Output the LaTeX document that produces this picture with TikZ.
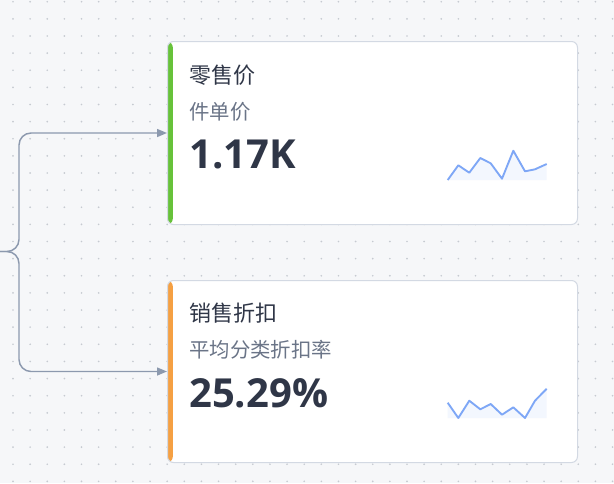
\documentclass[tikz,border=0pt]{standalone}
\usepackage{fontspec}
\setmainfont{Noto Sans CJK SC}
\newfontfamily\numfont{Open Sans}
\usetikzlibrary{calc, arrows.meta}

\definecolor{bgcol}{HTML}{F6F7F9}
\definecolor{dotcol}{HTML}{C6CAD1}
\definecolor{linkcol}{HTML}{8C99AE}
\definecolor{edgecol}{HTML}{D3D9E3}
\definecolor{okgreen}{HTML}{67C23A}
\definecolor{warnorange}{HTML}{F5A043}
\definecolor{titlecol}{HTML}{2F3647}
\definecolor{subcol}{HTML}{6A7487}
\definecolor{sparkcol}{HTML}{7EA7F6}

\begin{document}
\begin{tikzpicture}[x=0.75pt, y=-0.75pt,
  card/.style={rectangle, draw=edgecol, line width=0.75pt, fill=white, rounded corners=4.5pt,
    minimum width=307.5pt, minimum height=137pt, anchor=north west, inner sep=0pt,
    path picture={\fill[#1] (path picture bounding box.north west) rectangle ([xshift=4pt]path picture bounding box.south west);}},
  link/.style={draw=linkcol, line width=1.1pt, rounded corners=9pt, -{Triangle[length=7.5pt,width=6pt]}},
  ttl/.style={anchor=base west, inner sep=0pt, text=titlecol, font=\fontsize{16.5}{19}\selectfont},
  sub/.style={anchor=base west, inner sep=0pt, text=subcol, font=\fontsize{15.3}{18}\selectfont},
  val/.style={anchor=base west, inner sep=0pt, text=titlecol, font=\numfont\bfseries\fontsize{30}{34}\selectfont},
  spark/.style={draw=sparkcol, line width=1.4pt, line join=round},
  sparkfill/.style={fill=sparkcol!9, draw=none}]

  \fill[bgcol] (0,0) rectangle (614,483);
  \useasboundingbox (0,0) rectangle (614,483);
  \foreach \i in {0,...,35}
    \foreach \j in {0,...,28}
      \fill[dotcol] (13+17.13*\i, 1.7+17.13*\j) circle (0.7pt);

  \node[card=okgreen, minimum height=137.25pt] at (167,41) (c1) {};
  \node[card=warnorange, minimum height=136.5pt] at (167,280) (c2) {};

  \node[ttl] at ($(c1.north west)+(22,42)$) (t1) {零售价};
  \node[sub] at ($(c1.north west)+(22,78)$) (s1) {件单价};
  \node[val] at ($(c1.north west)+(22,127)$) (v1) {1.17K};

  \node[ttl] at ($(c2.north west)+(22,41)$) (t2) {销售折扣};
  \node[sub] at ($(c2.north west)+(22,77)$) (s2) {平均分类折扣率};
  \node[val] at ($(c2.north west)+(22,127)$) (v2) {25.29\%};

  % sparklines
  \fill[sparkfill] (447.7,180) -- (458.3,165.3) -- (469.3,172.7) -- (480.3,158) -- (490.7,163.3) -- (502,178.7) -- (513.3,150.7) -- (525,171.3) -- (535,169.3) -- (546.7,164) -- (546.7,180) -- cycle;
  \draw[spark] plot coordinates {(447.7,180) (458.3,165.3) (469.3,172.7) (480.3,158) (490.7,163.3) (502,178.7) (513.3,150.7) (525,171.3) (535,169.3) (546.7,164)};
  \fill[sparkfill] (447.7,402.7) -- (458.3,418) -- (469.3,400.7) -- (480.3,409.3) -- (490.7,404) -- (502,414.7) -- (513.3,407.3) -- (525,418) -- (535,400.7) -- (546.7,388.7) -- (546.7,418) -- (447.7,418) -- cycle;
  \draw[spark] plot coordinates {(447.7,402.7) (458.3,418) (469.3,400.7) (480.3,409.3) (490.7,404) (502,414.7) (513.3,407.3) (525,418) (535,400.7) (546.7,388.7)};

  % connectors
  \coordinate (src) at (0,251.5);
  \coordinate (bend) at (19,251.5);
  \draw[link] (src) -- (bend) |- (c1.west);
  \draw[link] (src) -- (bend) |- (c2.west);
\end{tikzpicture}
\end{document}
